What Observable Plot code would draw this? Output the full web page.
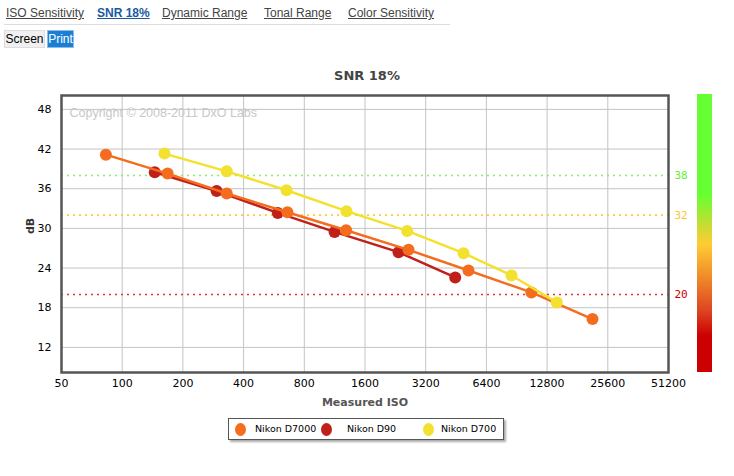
<!DOCTYPE html>
<html><head><meta charset="utf-8">
<script src="https://cdn.jsdelivr.net/npm/d3@7"></script>
<script src="https://cdn.jsdelivr.net/npm/@observablehq/plot@0.6"></script>
<style>
body{margin:0;background:#fff;font-family:"Liberation Sans",Arial,sans-serif;width:734px;height:476px;position:relative;overflow:hidden;}
.tab{position:absolute;top:6px;font-size:12px;color:#444;text-decoration:underline;white-space:nowrap;}
.tab.sel{color:#1a5aa0;font-weight:bold;}
#sep{position:absolute;left:4px;top:24px;width:446px;height:1px;background:#ddd;}
.btn{position:absolute;top:30px;height:18px;line-height:17px;font-size:12px;text-align:center;box-sizing:border-box;}
#title{position:absolute;left:0;width:734px;text-align:center;top:68px;font:bold 13px "DejaVu Sans",Verdana,sans-serif;color:#444;}
#chart{position:absolute;left:0;top:60px;}
#legend{position:absolute;left:228px;top:418px;width:274px;height:20px;border:1px solid #555;box-shadow:2px 2px 2px #aaa;background:#fff;font:9.5px "DejaVu Sans",Verdana,sans-serif;color:#000;}
.ld{position:absolute;top:4px;width:11px;height:13px;border-radius:50%;}
.lt{position:absolute;top:4px;white-space:nowrap;}
</style></head><body>
<span class="tab" style="left:6px">ISO Sensitivity</span>
<span class="tab sel" style="left:97px">SNR 18%</span>
<span class="tab" style="left:162px">Dynamic Range</span>
<span class="tab" style="left:264px">Tonal Range</span>
<span class="tab" style="left:348px">Color Sensitivity</span>
<div id="sep"></div>
<div class="btn" style="left:4px;width:41px;background:#f0f0f0;border:1px solid #ddd;color:#000;">Screen</div>
<div class="btn" style="left:47px;width:27px;background:#1a7fd4;color:#fff;border:1px solid #8bbde8;">Print</div>
<div id="title">SNR 18%</div>
<div id="chart"></div>
<div id="legend"></div>
<script>
// ---- data ----
const cameras = ["Nikon D7000", "Nikon D90", "Nikon D700"];
const cameraColors = ["#f46d1e", "#c0201a", "#f2e12e"];
const isoD7000 = [83, 168, 330, 660, 1290, 2630, 5216, 10700, 21500];
const snrD7000 = [41.15, 38.29, 35.27, 32.44, 29.72, 26.75, 23.63, 20.31, 16.28];
const isoD90 = [145, 294, 591, 1130, 2346, 4482];
const snrD90 = [38.48, 35.66, 32.34, 29.47, 26.4, 22.58];
const isoD700 = [162, 330, 653, 1295, 2590, 4928, 8527, 14300];
const snrD700 = [41.31, 38.63, 35.76, 32.6, 29.62, 26.25, 22.88, 18.8];
const isoTicks = [50, 100, 200, 400, 800, 1600, 3200, 6400, 12800, 25600, 51200];
const dbTicks = [12, 18, 24, 30, 36, 42, 48];
const refValues = [38, 32, 20];
const refLineColors = ["#88ee66", "#ffcc33", "#dd3333"];
const refTextColors = ["#66ee33", "#ffc433", "#cc0000"];

const series = [
  {name: cameras[0], color: cameraColors[0], pts: isoD7000.map((x, i) => ({iso: x, snr: snrD7000[i]}))},
  {name: cameras[1], color: cameraColors[1], pts: isoD90.map((x, i) => ({iso: x, snr: snrD90[i]}))},
  {name: cameras[2], color: cameraColors[2], pts: isoD700.map((x, i) => ({iso: x, snr: snrD700[i]}))}
];
const drawOrder = [1, 0, 2];
const refs = refValues.map((v, i) => ({v, line: refLineColors[i], txt: refTextColors[i]}));

function colorbar(index, scales, values, dims) {
  const g = d3.create("svg:g");
  const grad = g.append("defs").append("linearGradient")
    .attr("id", "cbgrad").attr("x1", 0).attr("y1", 0).attr("x2", 0).attr("y2", 1);
  [[0, "#66ff33"], [0.36, "#66ff33"], [0.47, "#c4dd33"], [0.54, "#ffcc33"], [0.66, "#f08a28"],
   [0.78, "#dd4422"], [0.87, "#cc0000"], [1, "#cc0000"]].forEach(([o, c]) =>
    grad.append("stop").attr("offset", o).attr("stop-color", c));
  g.append("rect")
    .attr("x", dims.width - dims.marginRight + 29)
    .attr("y", dims.marginTop - 1)
    .attr("width", 15)
    .attr("height", dims.height - dims.marginTop - dims.marginBottom + 1)
    .attr("fill", "url(#cbgrad)");
  return g.node();
}

const marks = [
  Plot.gridX(isoTicks, {stroke: "#c4c4c4", strokeOpacity: 1}),
  Plot.gridY(dbTicks, {stroke: "#c4c4c4", strokeOpacity: 1}),
  Plot.text(["Copyright © 2008-2011 DxO Labs"], {frameAnchor: "top-left", dx: 8, dy: 13, textAnchor: "start", fill: "#c8c8c8", fontSize: 12.5, fontFamily: "Liberation Sans, Arial, sans-serif"})
];
refs.forEach(r => {
  marks.push(Plot.ruleY([r.v], {stroke: r.line, strokeWidth: 1.6, strokeDasharray: "2,4"}));
  marks.push(Plot.text([r.v], {y: d => d, text: d => String(d), frameAnchor: "right", textAnchor: "start", dx: 6, fill: r.txt, fontFamily: "DejaVu Sans Mono", fontSize: 11}));
});
drawOrder.forEach(k => {
  const s = series[k];
  marks.push(Plot.line(s.pts, {x: "iso", y: "snr", stroke: s.color, strokeWidth: 2.5}));
  marks.push(Plot.dot(s.pts, {x: "iso", y: "snr", r: 6, fill: s.color}));
});
marks.push(
  Plot.frame({stroke: "#555", strokeWidth: 2.5}),
  Plot.axisX({ticks: isoTicks, tickFormat: d => String(d), tickSize: 0, tickPadding: 7, label: null}),
  Plot.axisY({ticks: dbTicks, tickSize: 0, tickPadding: 10, label: null}),
  Plot.text(["Measured ISO"], {frameAnchor: "bottom", dy: 33, fontWeight: "bold", fill: "#555", fontSize: 11}),
  Plot.text(["dB"], {frameAnchor: "left", dx: -31, rotate: -90, fontWeight: "bold", fill: "#333", fontSize: 11}),
  colorbar
);

const chart = Plot.plot({
  width: 734, height: 360,
  marginTop: 35, marginBottom: 48, marginLeft: 61, marginRight: 66,
  x: {type: "log", base: 2, domain: [50, 51200]},
  y: {domain: [8.2, 50.1]},
  style: {fontFamily: "DejaVu Sans, Verdana, sans-serif", fontSize: "11px", color: "#000", background: "transparent", overflow: "visible"},
  marks
});
document.getElementById("chart").append(chart);

// legend
const legendPos = [[6, 26], [92, 118], [194, 212]];
const leg = document.getElementById("legend");
series.forEach((s, i) => {
  const d = document.createElement("span");
  d.className = "ld"; d.style.left = legendPos[i][0] + "px"; d.style.background = s.color;
  const t = document.createElement("span");
  t.className = "lt"; t.style.left = legendPos[i][1] + "px"; t.textContent = s.name;
  leg.append(d, t);
});
</script>
</body></html>
